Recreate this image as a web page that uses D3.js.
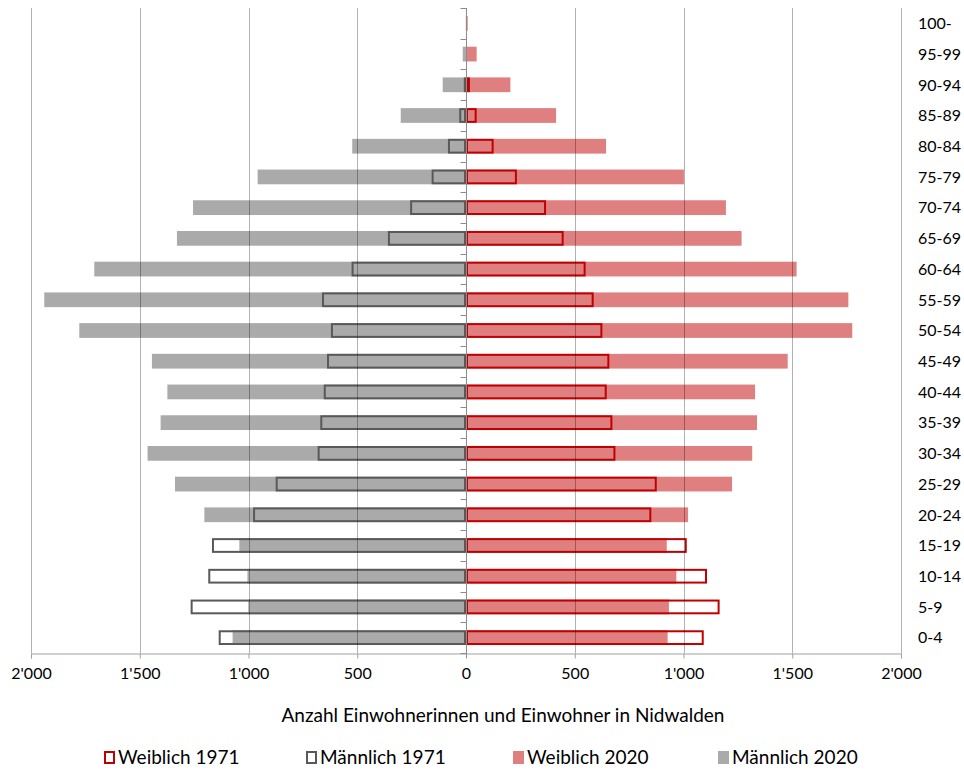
<!DOCTYPE html>
<html><head><meta charset="utf-8">
<script src="https://cdn.jsdelivr.net/npm/d3@7"></script>
<style>
body{margin:0;background:#fff;}
text{font-family:Lato,"Open Sans",sans-serif;fill:#000;}
</style></head>
<body><svg id="c" width="964" height="773"></svg>
<script>
const ageGroups = ["0-4","5-9","10-14","15-19","20-24","25-29","30-34","35-39","40-44","45-49","50-54","55-59","60-64","65-69","70-74","75-79","80-84","85-89","90-94","95-99","100-"];
const male2020   = [1073,1001,1005,1042,1203,1338,1464,1404,1373,1444,1778,1939,1709,1329,1255,958,523,300,107,15,1];
const female2020 = [927,933,967,923,1021,1223,1316,1338,1329,1479,1776,1758,1520,1267,1195,1002,644,414,204,49,8];
const male1971   = [1137,1266,1185,1168,979,875,682,670,654,639,621,662,526,359,257,158,83,31,10,4,0];
const female1971 = [1093,1166,1108,1015,852,877,687,673,647,659,627,587,550,449,368,234,127,49,18,5,0];
const xTicks = [-2000,-1500,-1000,-500,0,500,1000,1500,2000];
const legendLabels = ["Weiblich 1971","Männlich 1971","Weiblich 2020","Männlich 2020"];
const axisTitle = "Anzahl Einwohnerinnen und Einwohner in Nidwalden";

const svg = d3.select("#c");
const x = d3.scaleLinear().domain([-2000,2000]).range([31,901]);
const y = d3.scaleBand().domain(ageGroups.slice().reverse()).range([8,653]).paddingInner(0.52).paddingOuter(0.26);
const fmt = d3.formatLocale({decimal:".",thousands:"'",grouping:[3],currency:["",""]}).format(",d");

const colM20="#aaaaaa", colF20="#e07f7f", colM71="#595959", colF71="#c00000";

// 2020 filled bars
svg.append("g").selectAll("rect").data(ageGroups).join("rect")
  .attr("x",(d,i)=>x(-male2020[i])).attr("width",(d,i)=>x(0)-x(-male2020[i]))
  .attr("y",d=>y(d)).attr("height",y.bandwidth()).attr("fill",colM20);
svg.append("g").selectAll("rect").data(ageGroups).join("rect")
  .attr("x",x(0)).attr("width",(d,i)=>x(female2020[i])-x(0))
  .attr("y",d=>y(d)).attr("height",y.bandwidth()).attr("fill",colF20);

// 1971 outlines
svg.append("g").selectAll("rect").data(ageGroups.filter((d,i)=>male1971[i]>0)).join("rect")
  .attr("x",d=>x(-male1971[ageGroups.indexOf(d)])+1).attr("width",d=>Math.max(0,x(0)-x(-male1971[ageGroups.indexOf(d)])-2))
  .attr("y",d=>y(d)+1).attr("height",y.bandwidth()-2).attr("fill","none").attr("stroke",colM71).attr("stroke-width",2);
svg.append("g").selectAll("rect").data(ageGroups.filter((d,i)=>female1971[i]>0)).join("rect")
  .attr("x",x(0)+1).attr("width",d=>Math.max(0,x(female1971[ageGroups.indexOf(d)])-x(0)-2))
  .attr("y",d=>y(d)+1).attr("height",y.bandwidth()-2).attr("fill","none").attr("stroke",colF71).attr("stroke-width",2);

// gridlines on top
svg.append("g").selectAll("line").data(xTicks.filter(t=>t!==0)).join("line")
  .attr("x1",d=>Math.round(x(d))+0.5).attr("x2",d=>Math.round(x(d))+0.5)
  .attr("y1",8).attr("y2",653).attr("stroke","rgba(0,0,0,0.3)").attr("stroke-width",1);

// bottom axis
const xa = svg.append("g").attr("transform","translate(0,653.5)")
  .call(d3.axisBottom(x).tickValues(xTicks).tickFormat(d=>fmt(Math.abs(d))).tickSize(5).tickPadding(9));
xa.select(".domain").attr("stroke","#a0a0a0");
xa.selectAll(".tick line").attr("stroke","#a0a0a0");
xa.selectAll("text").style("font-size","16px").attr("fill","#000");

// vertical center axis with ticks at category boundaries
const x0 = Math.round(x(0))+0.5;
svg.append("line").attr("x1",x0).attr("x2",x0).attr("y1",8).attr("y2",658).attr("stroke","#8c8c8c");
const step = y.step();
const bounds = d3.range(ageGroups.length+1).map(i=>8+i*step);
svg.append("g").selectAll("line").data(bounds).join("line")
  .attr("x1",x0-6).attr("x2",x0).attr("y1",d=>Math.round(d)+0.5).attr("y2",d=>Math.round(d)+0.5)
  .attr("stroke","#8c8c8c");

// right category labels
svg.append("g").selectAll("text").data(ageGroups).join("text")
  .attr("x",918).attr("y",d=>y(d)+y.bandwidth()/2).attr("dy","0.36em")
  .style("font-size","16px").text(d=>d);

// axis title
svg.append("text").attr("x",503).attr("y",722).attr("text-anchor","middle")
  .style("font-size","19px").text(axisTitle);

// legend
const legX = [104,306,513,718];
const leg = svg.append("g");
legendLabels.forEach((lab,i)=>{
  const g = leg.append("g").attr("transform",`translate(${legX[i]},751)`);
  if(i<2){
    g.append("rect").attr("x",1).attr("y",1).attr("width",9).attr("height",11)
      .attr("fill","none").attr("stroke",i===0?colF71:colM71).attr("stroke-width",2);
  } else {
    g.append("rect").attr("x",0).attr("y",0).attr("width",11).attr("height",13)
      .attr("fill",i===2?colF20:colM20);
  }
  g.append("text").attr("x",14).attr("y",13).style("font-size","19px").text(lab);
});
</script></body></html>
